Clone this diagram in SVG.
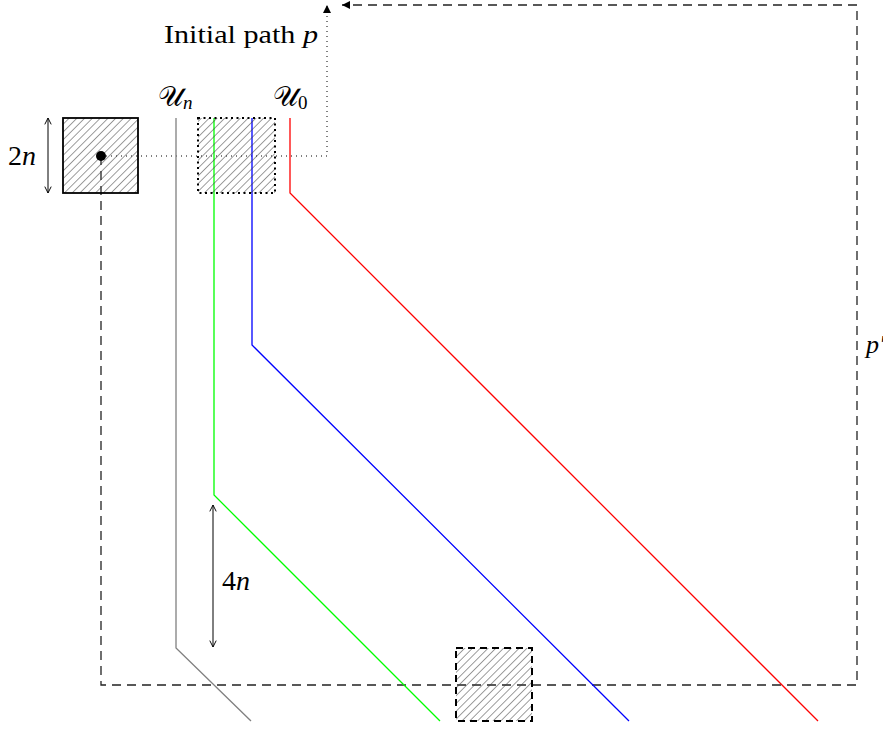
<svg xmlns="http://www.w3.org/2000/svg" width="883" height="729" viewBox="0 0 883 729">
<style>
text{font-family:"Liberation Serif","DejaVu Serif",serif;font-size:26px;fill:#000}
.it{font-style:italic}
.hatch{fill:url(#h)}
.dash{fill:none;stroke:#222;stroke-width:1.3;stroke-dasharray:9 6}
.dot{fill:none;stroke:#000;stroke-width:1;stroke-dasharray:1 4}
.path{fill:none;stroke-width:1.3}
</style>
<defs>
<pattern id="h" patternUnits="userSpaceOnUse" width="5.5" height="5.5" patternTransform="rotate(45)">
<line x1="0" y1="0" x2="0" y2="5.5" stroke="#3a3a3a" stroke-width="1"/>
</pattern>
<marker id="fa" viewBox="0 0 10 10" refX="10" refY="5" markerWidth="8" markerHeight="8" markerUnits="userSpaceOnUse" orient="auto">
<path d="M0,0 L10,5 L0,10 Z" fill="#000"/>
</marker>
<marker id="oa" viewBox="0 0 10 10" refX="9" refY="5" markerWidth="8" markerHeight="8" markerUnits="userSpaceOnUse" orient="auto-start-reverse">
<path d="M1,1 L9,5 L1,9" fill="none" stroke="#000" stroke-width="1.2"/>
</marker>
</defs>
<g id="connectors">
<polyline class="dash" points="101,156 101,685 857,685 857,5 342,5" marker-end="url(#fa)"/>
<polyline class="dot" points="101,156 327,156 327,5" marker-end="url(#fa)"/>
<polyline class="path" stroke="#808080" points="176,118 176,648 251,721"/>
<polyline class="path" stroke="#00ff00" points="214,118 214,495 440,721"/>
<polyline class="path" stroke="#0000ff" points="252,118 252,345 629,721"/>
<polyline class="path" stroke="#ff0000" points="290,118 290,193 818,721"/>
<line x1="48" y1="118" x2="48" y2="193" stroke="#000" stroke-width="1" marker-start="url(#oa)" marker-end="url(#oa)"/>
<line x1="213" y1="505" x2="213" y2="647" stroke="#000" stroke-width="1" marker-start="url(#oa)" marker-end="url(#oa)"/>
</g>
<g id="start-box">
<rect x="63" y="118" width="75" height="75" class="hatch" stroke="#000" stroke-width="1.8"/>
<circle cx="101" cy="156" r="5" fill="#000"/>
</g>
<g id="dotted-box">
<rect x="198" y="118" width="77" height="75" class="hatch" stroke="#000" stroke-width="2" stroke-dasharray="2 3.5"/>
</g>
<g id="dashed-box">
<rect x="456" y="648" width="76" height="73" class="hatch" stroke="#000" stroke-width="2" stroke-dasharray="7 5"/>
</g>
<g id="labels">
<text x="164" y="43" textLength="154" lengthAdjust="spacingAndGlyphs">Initial path <tspan class="it">p</tspan></text>
<text x="866" y="353" class="it">p′</text>
<text x="8" y="165" style="font-size:28px">2<tspan class="it">n</tspan></text>
<text x="222" y="590" style="font-size:28px">4<tspan class="it">n</tspan></text>
<text x="158" y="106" style="font-size:28px">𝒰<tspan class="it" style="font-size:19px" dy="3">n</tspan></text>
<text x="273" y="106" style="font-size:28px">𝒰<tspan style="font-size:19px" dy="3">0</tspan></text>
</g>
</svg>
